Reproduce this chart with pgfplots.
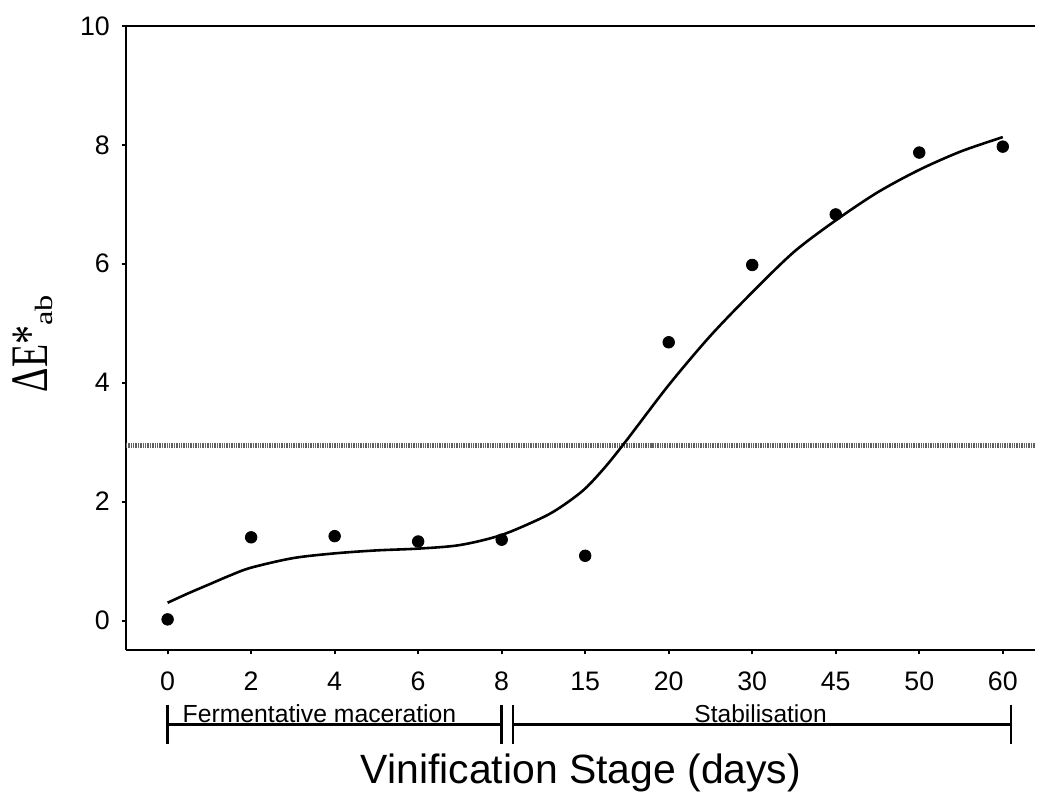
\documentclass[border=0pt]{standalone}
\usepackage{pgfplots}
\pgfplotsset{compat=1.18}
\usepackage{graphicx}
\usepackage{fontspec}
\setmainfont{Liberation Sans}
\newfontfamily\timesfont{Liberation Serif}

% measured colour difference after each sampling day (index 0..10)
\pgfplotstableread{
idx  dE
0    0.02
1    1.40
2    1.42
3    1.33
4    1.36
5    1.09
6    4.68
7    5.98
8    6.83
9    7.87
10   7.97
}\measured

% fitted trend curve
\pgfplotstableread{
idx   fit
0     0.30
0.25  0.46
0.5   0.61
0.75  0.76
1     0.89
1.5   1.05
2     1.13
2.5   1.18
3     1.21
3.5   1.27
4     1.44
4.5   1.74
4.75  1.95
5     2.22
5.25  2.60
5.5   3.04
6     3.96
6.5   4.79
7     5.52
7.5   6.20
8     6.73
8.5   7.20
9     7.58
9.5   7.89
10    8.13
}\trend

\begin{document}
\begin{tikzpicture}
\begin{axis}[
  scale only axis, width=455.5pt, height=313pt,
  xmin=-0.5, xmax=10.38, ymin=-0.5, ymax=10,
  axis x line*=bottom, axis y line*=left,
  axis line style={line width=1pt, -},
  tick align=outside, major tick length=2pt,
  tick style={line width=1pt, black},
  xtick={0,...,10},
  xticklabels={0,2,4,6,8,15,20,30,45,50,60},
  ytick={0,2,...,10},
  tick label style={font=\fontsize{13.4}{15}\selectfont},
  /pgf/number format/assume math mode=true,
  xticklabel style={yshift=-5.5pt},
  yticklabel style={xshift=-2.5pt},
  clip=false,
]
% page extent
\path (axis cs:-2.007,10.436) rectangle (axis cs:10.38,-2.938);
% top frame line
\draw[line width=1pt] (rel axis cs:0,1) -- (rel axis cs:1,1);

% perceptibility threshold
\addplot[line width=2.5pt, black!62, dash pattern=on 0.7pt off 0.5pt]
  coordinates {(-0.5,2.95) (10.38,2.95)};

\addplot[line width=1.3pt, black, smooth] table[x=idx, y=fit] {\trend};

\addplot[only marks, mark=*, mark size=2.9pt, black] table[x=idx, y=dE] {\measured};

% stage brackets
\draw[line width=1.2pt] (axis cs:0,-1.413) -- (axis cs:0,-2.083)
  (axis cs:0,-1.748) -- (axis cs:4.0,-1.748)
  (axis cs:4.0,-1.413) -- (axis cs:4.0,-2.083);
\draw[line width=1.2pt] (axis cs:4.134,-1.413) -- (axis cs:4.134,-2.083)
  (axis cs:4.134,-1.748) -- (axis cs:10.099,-1.748)
  (axis cs:10.099,-1.413) -- (axis cs:10.099,-2.083);
\node[anchor=base west, inner sep=0, font=\fontsize{12.4}{14}\selectfont]
  at (axis cs:0.176,-1.706) {Fermentative maceration};
\node[anchor=base, inner sep=0, font=\fontsize{12.3}{14}\selectfont]
  at (axis cs:7.10,-1.706) {Stabilisation};

% axis titles
\node[anchor=base, inner sep=0, font=\fontsize{20.5}{24}\selectfont]
  at (axis cs:4.95,-2.732) {Vinification Stage (days)};
\node[anchor=base, inner sep=0, rotate=90]
  at (axis cs:-1.434,4.654)
  {\timesfont\scalebox{0.72}[1]{\fontsize{26.4}{30}\selectfont ΔE*}\raisebox{-2.5pt}{\scalebox{1.3}[1]{\fontsize{12.5}{13}\selectfont ab}}};
\end{axis}
\end{tikzpicture}
\end{document}
